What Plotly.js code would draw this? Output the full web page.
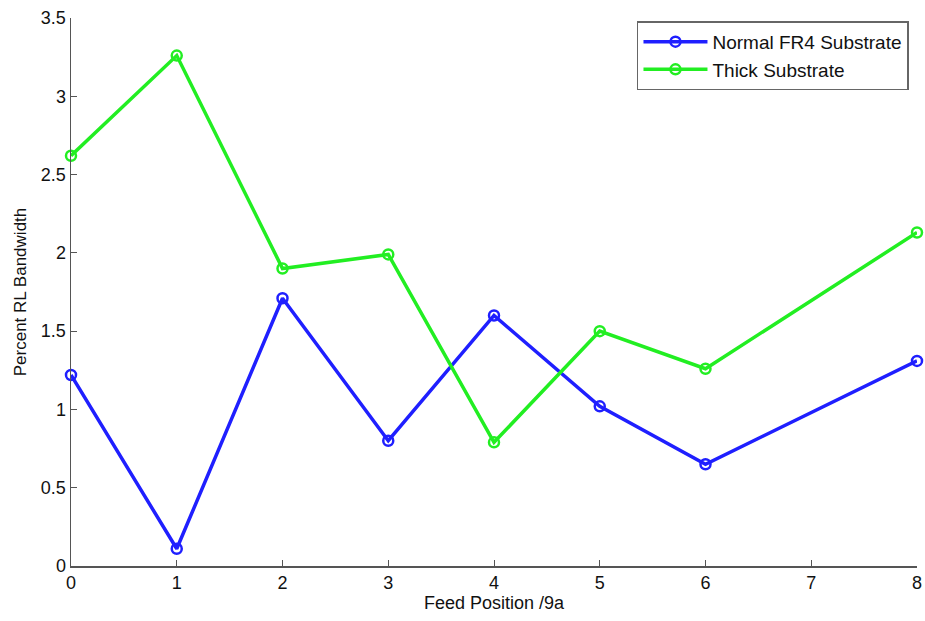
<!DOCTYPE html>
<html>
<head>
<meta charset="utf-8">
<script src="https://cdn.plot.ly/plotly-3.0.1.min.js"></script>
<style>html,body{margin:0;padding:0;background:#fff;}#chart{width:925px;height:621px;}</style>
</head>
<body>
<div id="chart"></div>
<script>
const feedPos = [0, 1, 2, 3, 4, 5, 6, 8];
const normalFR4 = [1.22, 0.11, 1.71, 0.80, 1.60, 1.02, 0.65, 1.31];
const thickSub = [2.62, 3.26, 1.90, 1.99, 0.79, 1.50, 1.26, 2.13];
const xTicks = [0, 1, 2, 3, 4, 5, 6, 7, 8];
const yTicks = [0, 0.5, 1, 1.5, 2, 2.5, 3, 3.5];
const yTickText = ['0', '0.5', '1', '1.5', '2', '2.5', '3', '3.5'];

const traces = [
  {x: feedPos, y: normalFR4, name: 'Normal FR4 Substrate', mode: 'lines+markers',
   line: {color: '#1f1fff', width: 3.5},
   marker: {symbol: 'circle-open', size: 10, color: '#1f1fff', line: {width: 2.5, color: '#1f1fff'}},
   cliponaxis: false},
  {x: feedPos, y: thickSub, name: 'Thick Substrate', mode: 'lines+markers',
   line: {color: '#22ee22', width: 3.5},
   marker: {symbol: 'circle-open', size: 10, color: '#22ee22', line: {width: 2.5, color: '#22ee22'}},
   cliponaxis: false}
];

const layout = {
  width: 925, height: 621,
  margin: {l: 71, r: 8, t: 18, b: 55},
  paper_bgcolor: '#fff', plot_bgcolor: '#fff',
  font: {family: 'Liberation Sans, Arial, sans-serif', size: 18, color: '#111'},
  showlegend: true,
  legend: {x: 0.669, y: 0.994, xanchor: 'left', yanchor: 'top',
           bordercolor: '#666', borderwidth: 1.5, bgcolor: '#fff',
           itemwidth: 64,
           font: {size: 19, color: '#111'}, tracegroupgap: 0},
  xaxis: {range: [0, 8], tickvals: xTicks, ticktext: xTicks.map(String),
          tickfont: {size: 18},
          showgrid: false, zeroline: false, showline: true, linecolor: '#555', linewidth: 1.5,
          ticks: 'inside', ticklen: 6, tickcolor: '#555', mirror: false,
          title: {text: 'Feed Position /9a', font: {size: 18}, standoff: 4}},
  yaxis: {range: [0, 3.5], tickvals: yTicks, ticktext: yTickText,
          tickfont: {size: 18},
          showgrid: false, zeroline: false, showline: true, linecolor: '#555', linewidth: 1.5,
          ticks: 'inside', ticklen: 6, tickcolor: '#555', mirror: false,
          title: {text: 'Percent RL Bandwidth', font: {size: 17}, standoff: 10}}
};

Plotly.newPlot('chart', traces, layout, {displayModeBar: false, staticPlot: true});
</script>
</body>
</html>
